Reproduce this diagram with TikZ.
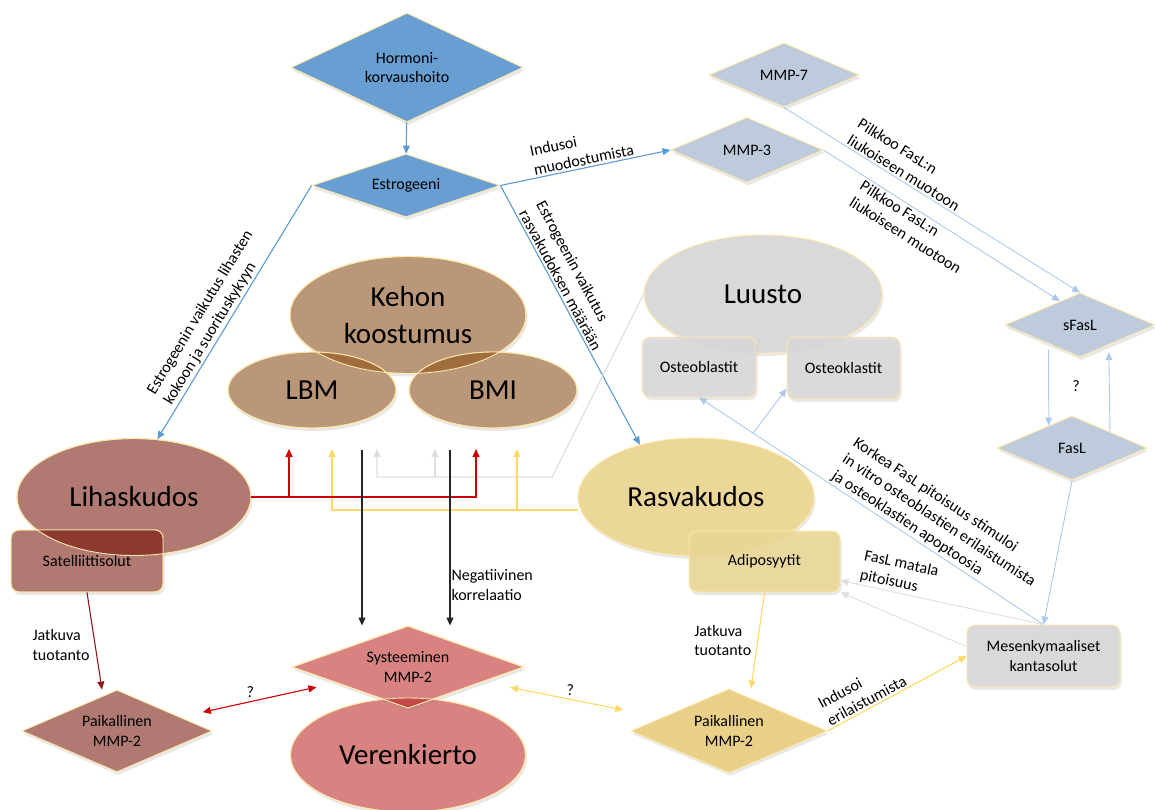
\documentclass[tikz,border=0pt]{standalone}
\usepackage{fontspec}
\setmainfont{Carlito}
\usepackage{tikz}
\usetikzlibrary{shapes.geometric,arrows.meta,calc,shadows}

\definecolor{hblue}{RGB}{104,158,210}
\definecolor{ablue}{RGB}{91,155,213}
\definecolor{sblue}{RGB}{190,203,220}
\definecolor{lblue}{RGB}{172,202,234}
\definecolor{kbrown}{RGB}{185,151,120}
\definecolor{kdark}{RGB}{160,110,62}
\definecolor{mrose}{RGB}{176,121,114}
\definecolor{mdark}{RGB}{140,58,48}
\definecolor{vred}{RGB}{216,130,130}
\definecolor{vdark}{RGB}{196,72,72}
\definecolor{fyel}{RGB}{235,216,152}
\definecolor{pyel}{RGB}{232,208,136}
\definecolor{ayel}{RGB}{255,217,102}
\definecolor{lgray}{RGB}{217,217,217}
\definecolor{cgray}{RGB}{222,222,222}
\definecolor{rim}{RGB}{255,232,170}
\definecolor{cred}{RGB}{204,0,0}
\definecolor{dred}{RGB}{140,26,26}

\tikzset{
  txtsmall/.style={font=\fontsize{16}{19.5}\selectfont, align=center, text=black},
  txtbig/.style={font=\fontsize{29}{37}\selectfont, align=center},
  shapebase/.style={draw=rim, line width=0.9pt, drop shadow={shadow xshift=1.5pt, shadow yshift=-3pt, opacity=0.18}},
  diabox/.style={shapebase, diamond, txtsmall, inner sep=0pt},
  ovalbox/.style={shapebase, ellipse, txtbig, inner sep=0pt},
  rectbox/.style={shapebase, rectangle, rounded corners=8pt, txtsmall, inner sep=0pt},
  conlabel/.style={font=\fontsize{16}{19.5}\selectfont, align=left, inner sep=2pt, text=black},
  conline/.style={line width=1.1pt, -{Triangle[length=8pt,width=7pt]}},
  bothtips/.style={line width=1.1pt, {Triangle[length=8pt,width=7pt]}-{Triangle[length=8pt,width=7pt]}},
}

\begin{document}
\begin{tikzpicture}[x=1pt,y=1pt]
\useasboundingbox (0,0) rectangle (1155,-810);
%% hormone and estrogen
\node[diabox, fill=hblue, aspect=2.13, minimum width=232pt, minimum height=109pt] (hrt) at (407,-67.5) {Hormoni-\\korvaushoito};
\node[diabox, fill=hblue, aspect=2.98, minimum width=188pt, minimum height=63pt] (estr) at (406,-185.5) {Estrogeeni};
%% MMPs and FasL
\node[diabox, fill=sblue, aspect=2.34, minimum width=150pt, minimum height=64pt] (mmp7) at (784,-75) {MMP-7};
\node[diabox, fill=sblue, aspect=2.34, minimum width=152pt, minimum height=65pt] (mmp3) at (747,-150) {MMP-3};
\node[diabox, fill=sblue, aspect=2.34, minimum width=150pt, minimum height=64pt] (sfasl) at (1080,-325) {sFasL};
\node[diabox, fill=sblue, aspect=2.34, minimum width=150pt, minimum height=64pt] (fasl) at (1072,-448) {FasL};
%% body composition
\node[ovalbox, fill=kbrown, minimum width=236pt, minimum height=117pt] (kehon) at (408,-315) {Kehon\\koostumus};
\node[ovalbox, fill=kbrown, minimum width=168pt, minimum height=76pt] (lbm) at (312,-390) {LBM};
\node[ovalbox, fill=kbrown, minimum width=168pt, minimum height=76pt] (bmi) at (493,-390) {BMI};
\begin{scope}
\clip (408,-315) ellipse [x radius=118, y radius=58.5];
\fill[kdark] (312,-390) ellipse [x radius=84, y radius=38] (493,-390) ellipse [x radius=84, y radius=38];
\end{scope}
\draw[rim, line width=0.9pt] (408,-315) ellipse [x radius=118, y radius=58.5] (312,-390) ellipse [x radius=84, y radius=38] (493,-390) ellipse [x radius=84, y radius=38];
%% bone
\node[ovalbox, fill=lgray, minimum width=238pt, minimum height=118pt] (luusto) at (763,-294) {Luusto};
\node[rectbox, fill=lgray, fill opacity=0.88, text opacity=1, minimum width=114pt, minimum height=60pt] (ostb) at (699,-367) {Osteoblastit};
\node[rectbox, fill=lgray, fill opacity=0.88, text opacity=1, minimum width=113pt, minimum height=62pt] (ostk) at (843.5,-368) {Osteoklastit};
%% muscle
\node[ovalbox, fill=mrose, minimum width=234pt, minimum height=117pt] (lih) at (134,-497) {Lihaskudos};
\node[rectbox, fill=mrose, minimum width=152pt, minimum height=62pt] (sat) at (87,-561) {Satelliittisolut};
\begin{scope}
\clip (134,-497) ellipse [x radius=117, y radius=58.5];
\fill[mdark, rounded corners=8pt] (11,-530) rectangle (163,-592);
\end{scope}
\draw[rim, line width=0.9pt] (134,-497) ellipse [x radius=117, y radius=58.5];
\draw[rim, line width=0.9pt, rounded corners=8pt] (11,-530) rectangle (163,-592);
%% fat
\node[ovalbox, fill=fyel, minimum width=236pt, minimum height=118pt] (rasva) at (696,-497) {Rasvakudos};
\node[rectbox, fill=fyel, fill opacity=0.9, text opacity=1, minimum width=151pt, minimum height=61pt] (adipo) at (764.5,-561.5) {Adiposyytit};
%% stem cells
\node[rectbox, fill=lgray, minimum width=153pt, minimum height=62pt] (msc) at (1043.5,-656) {Mesenkymaaliset\\kantasolut};
%% MMP-2
\node[diabox, fill=mrose, aspect=2.32, minimum width=190pt, minimum height=82pt] (lpaik) at (117,-731) {Paikallinen\\MMP-2};
\node[ovalbox, fill=vred, minimum width=235pt, minimum height=114pt] (ver) at (408,-755) {Verenkierto};
\node[diabox, fill=vred, aspect=2.83, minimum width=232pt, minimum height=82pt] (sys) at (408,-667) {Systeeminen\\MMP-2};
\begin{scope}
\clip (408,-755) ellipse [x radius=117.5, y radius=57];
\fill[vdark] (292,-667) -- (408,-626) -- (524,-667) -- (408,-708) -- cycle;
\end{scope}
\draw[rim, line width=0.9pt] (408,-755) ellipse [x radius=117.5, y radius=57];
\draw[rim, line width=0.9pt] (292,-667) -- (408,-626) -- (524,-667) -- (408,-708) -- cycle;
\node[diabox, fill=pyel, aspect=2.33, minimum width=196pt, minimum height=84pt] (rpaik) at (729,-731) {Paikallinen\\MMP-2};
%% connectors from estrogen
\draw[conline, ablue] (hrt) -- (estr);
\draw[conline, ablue] (estr.east) -- node[conlabel, sloped, above, pos=0.5] (lind) {Indusoi\\muodostumista} (mmp3.west);
\draw[conline, ablue] (estr.west) -- node[conlabel, sloped, above, pos=0.56] (llih) {Estrogeenin vaikutus lihasten\\kokoon ja suorituskykyyn} (lih.68);
\draw[conline, ablue] (estr.east) -- node[conlabel, sloped, above, pos=0.38] (lras) {Estrogeenin vaikutus\\rasvakudoksen määrään} (rasva.137);
%% FasL
\draw[conline, lblue, line width=0.9pt] (mmp7.south) -- node[conlabel, sloped, above, pos=0.39] (lpk1) {Pilkkoo FasL:n\\liukoiseen muotoon} (sfasl.north);
\draw[conline, lblue, line width=0.9pt] (mmp3.east) -- node[conlabel, sloped, below, pos=0.41] (lpk2) {Pilkkoo FasL:n\\liukoiseen muotoon} (sfasl.130);
\draw[conline, lblue, line width=0.9pt, shorten <=6pt] (sfasl.211) -- (fasl.136);
\draw[conline, lblue, line width=0.9pt, shorten >=7pt] (fasl.23) -- (sfasl.325);
\node[txtsmall] (qsf) at ($(sfasl)!0.5!(fasl)$) {?};
\draw[conline, lblue, line width=0.9pt] (fasl.south) -- (msc.north);
\draw[conline, lblue, line width=0.9pt] (msc.north) -- node[conlabel, sloped, above, pos=0.35] (lkor) {Korkea FasL pitoisuus stimuloi\\in vitro osteoblastien erilaistumista\\ja osteoklastien apoptoosia} (ostb.south);
\draw[conline, lblue, line width=0.9pt] ($(msc.north)!0.843!(ostb.south)$) -- (ostk.200);
\draw[conline, cgray, line width=0.9pt] (msc.north) -- node[conlabel, sloped, above, pos=0.73] (lmat) {FasL matala\\pitoisuus} (adipo.346);
\draw[conline, cgray, line width=0.9pt] (msc.173) -- (adipo.south east);
%% local and systemic MMP-2
\draw[conline, dred] (sat.south) -- node[conlabel, left, pos=0.54, xshift=-3pt] (ljt1) {Jatkuva\\tuotanto} ([xshift=-15pt]lpaik.north);
\draw[conline, ayel] (adipo.south) -- node[conlabel, left, pos=0.5, xshift=-4pt] (ljt2) {Jatkuva\\tuotanto} ([xshift=22pt]rpaik.north);
\draw[conline, ayel] (rpaik.east) -- node[conlabel, sloped, above, pos=0.31] (leri) {Indusoi\\erilaistumista} (msc.west);
\draw[bothtips, cred, shorten <=23pt, shorten >=20pt] (lpaik) -- node[txtsmall, above, pos=0.45] (q1) {?} (sys);
\draw[bothtips, ayel, shorten <=28pt, shorten >=39pt] (sys) -- node[txtsmall, above, pos=0.49] (q2) {?} (rpaik);
%% tissues to body composition
\coordinate (r1) at (289,-449);
\coordinate (r2) at (476,-449);
\coordinate (y1) at (332,-449);
\coordinate (y2) at (517,-449);
\coordinate (yr) at ([yshift=-13pt]rasva.west);
\coordinate (g0) at (552,-477);
\coordinate (g1) at (377,-449);
\coordinate (g2) at (435,-449);
\draw[conline, cgray] (luusto.west) -- (g0) -| (g1);
\draw[conline, cgray] (g0 -| g2) -- (g2);
\draw[conline, ayel] (yr) -| (y1);
\draw[conline, ayel] (yr -| y2) -- (y2);
\draw[conline, cred] (lih.east) -| (r2);
\draw[conline, cred] (lih.east -| r1) -- (r1);
%% body composition to systemic MMP-2
\coordinate (b1) at (362,-450);
\coordinate (b2) at (450,-450);
\draw[conline, black!85] (b1) -- (b1 |- sys.north);
\draw[conline, black!85] (b2) -- node[conlabel, right, pos=0.77, inner sep=1pt] (lneg) {Negatiivinen\\korrelaatio} (b2 |- sys.north);
\end{tikzpicture}
\end{document}
